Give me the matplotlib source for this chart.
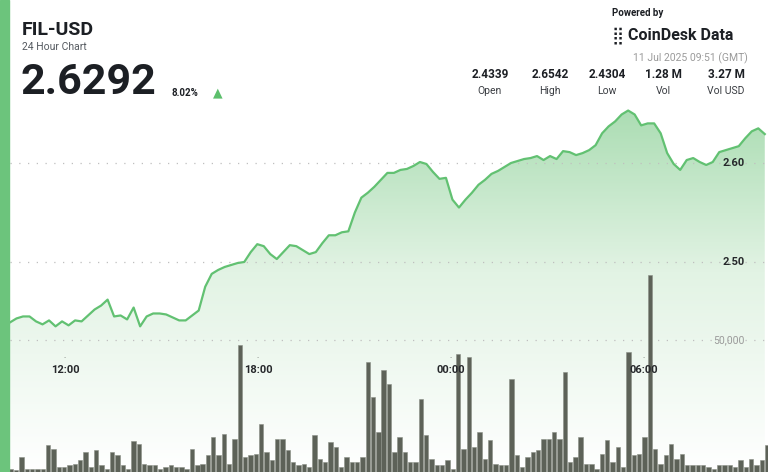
import numpy as np
import matplotlib
matplotlib.use("Agg")
import matplotlib.pyplot as plt
from matplotlib.patches import Rectangle, Polygon
from matplotlib.colors import LinearSegmentedColormap

plt.rcParams['font.family'] = ['Roboto', 'DejaVu Sans']

price = [2.439,2.443,2.445,2.445,2.440,2.437,2.441,2.435,2.440,2.436,2.441,2.440,2.446,2.452,2.456,2.462,2.445,2.446,2.442,2.454,
         2.435,2.445,2.448,2.448,2.447,2.444,2.441,2.441,2.446,2.451,2.475,2.488,2.492,2.495,2.497,2.499,2.500,2.510,2.518,2.516,
         2.508,2.503,2.510,2.517,2.516,2.512,2.508,2.510,2.519,2.527,2.527,2.530,2.531,2.550,2.565,2.570,2.576,2.583,2.590,2.590,
         2.593,2.594,2.597,2.601,2.599,2.591,2.584,2.585,2.563,2.555,2.563,2.570,2.578,2.583,2.589,2.592,2.596,2.600,2.602,2.604,
         2.605,2.607,2.603,2.607,2.604,2.612,2.611,2.608,2.610,2.613,2.618,2.630,2.637,2.642,2.649,2.653,2.649,2.638,2.640,2.640,
         2.630,2.610,2.599,2.593,2.603,2.605,2.601,2.598,2.601,2.611,2.613,2.615,2.617,2.625,2.632,2.635,2.6292]

volume_k = [1.3,0.6,5.7,1.3,1.3,1.3,1.3,10.1,8.8,1.9,1.9,2.5,3.2,4.4,7.6,1.9,8.2,2.5,1.3,7.6,
            6.3,2.5,1.3,11.6,10.7,3.2,2.5,2.5,1.3,1.9,2.5,1.9,1.9,1.3,8.8,2.5,3.2,6.3,13.3,6.3,
            14.3,3.2,12.4,48.0,5.7,6.3,6.9,18.3,7.6,4.4,12.4,12.4,8.2,3.8,2.5,3.2,1.9,13.9,5.1,3.8,
            11.4,9.5,1.9,5.7,3.8,3.8,5.7,41.7,28.4,15.2,38.5,33.5,7.6,13.3,7.6,3.8,3.8,27.8,13.9,5.1,
            2.5,2.5,4.4,1.3,44.8,8.8,43.6,9.5,15.2,5.1,12.0,3.2,2.5,2.5,35.4,6.3,1.9,5.7,7.6,8.2,
            12.6,12.6,15.2,12.6,37.9,3.8,5.7,13.3,3.2,3.2,1.3,6.9,12.0,3.8,9.5,1.9,45.5,6.3,6.9,13.3,
            74.5,8.8,3.2,6.3,10.7,5.1,6.9,2.5,2.5,2.5,2.5,1.9,1.3,2.5,2.5,2.5,1.9,4.4,1.9,5.1,
            2.5,4.4,10.1]

tick_hours = [12, 18, 24, 30]
tick_labels = ["12:00", "18:00", "00:00", "06:00"]
stat_values = ["2.4339", "2.6542", "2.4304", "1.28 M", "3.27 M"]
stat_names = ["Open", "High", "Low", "Vol", "Vol USD"]

W, H = 768, 472
fig = plt.figure(figsize=(W/100, H/100), dpi=100)
def P(x, y):
    return (x / W, 1 - y / H)

pxh = (258 - 65) / 6.0
t0 = 12 + (10 - 65) / pxh
t1 = 12 + (768 - 65) / pxh

ax = fig.add_axes([10/W, 0, 758/W, 1])
ax.set_xlim(t0, t1)
ylo = 2.60 - (472 - 163) / 990
yhi = 2.60 + 163 / 990
ax.set_ylim(ylo, yhi)
ax.axis('off')

tp = np.linspace(t0, t1 - 0.1, len(price))
grad = np.linspace(0, 1, 256).reshape(-1, 1)
cmap = LinearSegmentedColormap.from_list('g', ['#ffffff', '#e2f3e4', '#9fd8a8'])
im = ax.imshow(grad, extent=[t0, t1, ylo, 2.655], origin='lower', aspect='auto', cmap=cmap, zorder=1,
               vmin=0, vmax=1.1)
poly = Polygon(np.column_stack([np.r_[tp[0], tp, tp[-1]], np.r_[ylo, price, ylo]]), closed=True,
               transform=ax.transData, facecolor='none', edgecolor='none')
ax.add_patch(poly)
im.set_clip_path(poly)
ax.plot(tp, price, color='#62c172', lw=1.6, zorder=4)

for v in [2.60, 2.50]:
    ax.axhline(v, color='#bfbfbf', lw=0.9, ls=(0, (1, 6)), zorder=2)

ax2 = fig.add_axes([10/W, 0, 758/W, 1], sharex=ax)
ax2.set_ylim(0, 472 / 132 * 50000)
ax2.axis('off')
ax2.patch.set_alpha(0)
tb = np.linspace(t0 + 0.03, t1 - 0.03, len(volume_k))
bw = (tb[1] - tb[0]) * 0.82
ax2.bar(tb, np.array(volume_k) * 1000, width=bw, color='#5d6258', edgecolor='#8a8f86', lw=0.4, zorder=3)
ax2.axhline(50000, color='#bfbfbf', lw=0.9, ls=(0, (1, 6)), zorder=2)

for h, lab in zip(tick_hours, tick_labels):
    x = 65 + (h - 12) * pxh
    fig.text(*P(x, 370), lab, ha='center', va='center', fontsize=8, fontweight='bold', color='#26282b')
    fig.text(*P(x, 356), '.', ha='center', va='center', fontsize=6, color='#555555')

fig.text(*P(745, 163), "2.60", ha='right', va='center', fontsize=8, fontweight='bold', color='#26282b')
fig.text(*P(745, 262), "2.50", ha='right', va='center', fontsize=8, fontweight='bold', color='#26282b')
fig.text(*P(745, 340), "50,000", ha='right', va='center', fontsize=7.5, color='#9a9a9a')

fig.patches.append(Rectangle((0, 0), 9/W, 1, transform=fig.transFigure, color='#6cc47c', zorder=10))

fig.text(*P(22, 30), "FIL-USD", ha='left', va='center', fontsize=14, fontweight='bold', color='#1c1f24')
fig.text(*P(22, 47), "24 Hour Chart", ha='left', va='center', fontsize=7.5, color='#555a60')
fig.text(*P(20, 82), "2.6292", ha='left', va='center', fontsize=31, fontweight='bold', color='#1c1f24')
fig.text(*P(172, 93), "8.02%", ha='left', va='center', fontsize=7, fontweight='bold', color='#1c1f24')
fig.text(*P(218, 93), "▲", ha='center', va='center', fontsize=9, color='#5cbf6c', family=['DejaVu Sans'])

fig.text(*P(612, 13), "Powered by", ha='left', va='center', fontsize=7, fontweight='bold', color='#1c1f24')
fig.text(*P(628, 35), "CoinDesk Data", ha='left', va='center', fontsize=11.5, fontweight='bold', color='#1c1f24')
fig.text(*P(618, 35), "⣿", ha='center', va='center', fontsize=12, color='#1c1f24', family=['DejaVu Sans'])
fig.text(*P(748, 58), "11 Jul 2025 09:51 (GMT)", ha='right', va='center', fontsize=7.5, color='#9a9a9a')
for cx, v, n in zip([490, 550, 607, 663, 726], stat_values, stat_names):
    fig.text(*P(cx, 75), v, ha='center', va='center', fontsize=8.5, fontweight='bold', color='#1c1f24')
    fig.text(*P(cx, 91), n, ha='center', va='center', fontsize=7.5, color='#3a3d42')

fig.savefig("out.png", dpi=100)
